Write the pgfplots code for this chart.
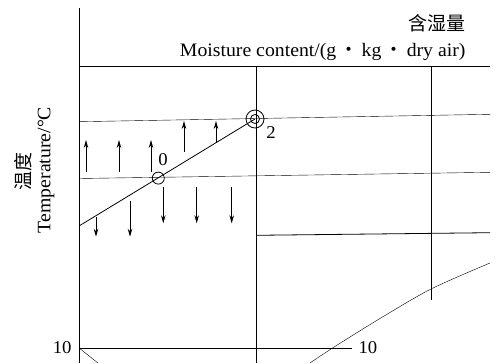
\documentclass[border=0pt]{standalone}
\usepackage{pgfplots}
\pgfplotsset{compat=1.18}
\usepackage{fontspec}
\setmainfont[FakeStretch=1.04]{Liberation Serif}
\newfontfamily\cjk{Noto Sans CJK SC}
\usetikzlibrary{arrows.meta}
\begin{document}
\begin{tikzpicture}
\begin{axis}[
  x=1bp, y=1bp,
  xmin=0, xmax=497, ymin=0, ymax=363,
  hide axis, clip=false,
  cycle list={{black, solid, mark=none, line width=0.8bp}},
]
% frame of the page area
\addplot[draw=none] coordinates {(0,0) (497,363)};
% moisture-content axis and constant moisture lines
\addplot coordinates {(79,0) (79,355)};
\addplot coordinates {(79,297) (490,297)};
\addplot coordinates {(256,0) (256,297)};
\addplot coordinates {(431,63) (431,297)};
% isotherms
\addplot coordinates {(79,241.3) (490,248.7)};
\addplot coordinates {(79,184.5) (490,190.7)};
\addplot coordinates {(256,127.7) (490,130.3)};
\addplot coordinates {(79,15.3) (351.7,15.3)};
\addplot coordinates {(79,15) (98,0)};
% saturation curve
\addplot+[smooth] coordinates {(310,0) (333,15.3) (380,44.5) (431,74) (490,100)};
% process line 0 -> 2
\addplot coordinates {(79,137) (255,244)};
% state points
\addplot+[only marks, mark=o, mark size=6bp, mark options={line width=0.8bp}] coordinates {(158.3,184.9)};
\addplot+[only marks, mark=o, mark size=9bp, mark options={line width=0.8bp}] coordinates {(255,244)};
\addplot+[only marks, mark=o, mark size=4.5bp, mark options={line width=0.8bp}] coordinates {(255,244)};
% heating arrows
\pgfplotsset{arr/.style={-{Stealth[length=8bp,width=4.5bp]}, line width=0.8bp}}
\addplot+[arr] coordinates {(86,191.3) (86,223)};
\addplot+[arr] coordinates {(119,191.3) (119,223)};
\addplot+[arr] coordinates {(151,191.3) (151,223)};
\addplot+[arr] coordinates {(184,211.3) (184,242)};
\addplot+[arr] coordinates {(216,221.3) (216,242)};
% cooling arrows
\addplot+[arr] coordinates {(96,146.3) (96,126.3)};
\addplot+[arr] coordinates {(130,162) (130,126.3)};
\addplot+[arr] coordinates {(163.3,176.3) (163.3,139.7)};
\addplot+[arr] coordinates {(196.7,176.3) (196.7,139.7)};
\addplot+[arr] coordinates {(231.7,176.3) (231.7,139.7)};
% labels
\node[font=\fontsize{18bp}{20bp}\selectfont] at (axis cs:163,203) {0};
\node[font=\fontsize{18bp}{20bp}\selectfont] at (axis cs:271,230) {2};
\node[font=\fontsize{18bp}{20bp}\selectfont, anchor=east] at (axis cs:75,15.3) {10};
\node[font=\fontsize{18bp}{20bp}\selectfont, anchor=west] at (axis cs:355,15.3) {10};
\node[font=\fontsize{19bp}{21bp}\selectfont\cjk, anchor=east] at (axis cs:469,340) {含湿量};
\node[font=\fontsize{19bp}{21bp}\selectfont, anchor=east] at (axis cs:469,311) {Moisture content/(g\,{\cjk ・}\,kg\,{\cjk ・}\,dry air)};
\node[font=\fontsize{19bp}{21bp}\selectfont\cjk, rotate=90] at (axis cs:23,192) {温度};
\node[font=\fontsize{19bp}{21bp}\selectfont, rotate=90] at (axis cs:46,193) {Temperature/°C};
\end{axis}
\end{tikzpicture}
\end{document}
